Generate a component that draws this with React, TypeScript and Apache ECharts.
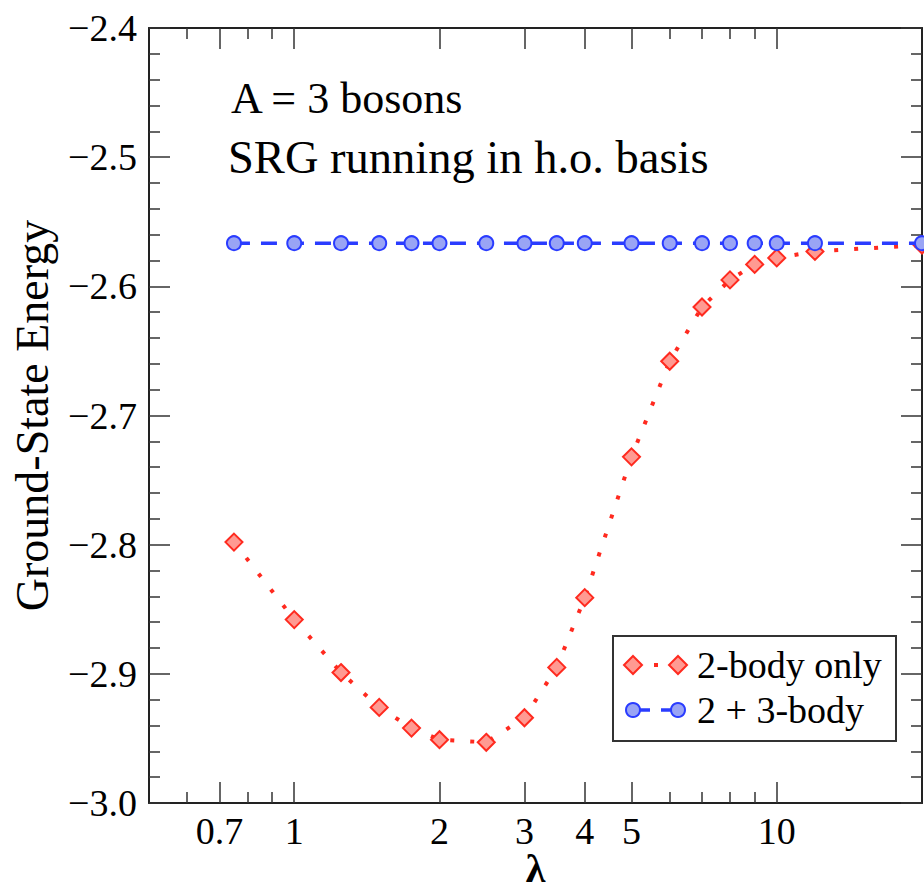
import React, { useEffect, useRef } from 'react';
import * as echarts from 'echarts';

// ---- data ----
const lambdaValues = [0.75, 1, 1.25, 1.5, 1.75, 2, 2.5, 3, 3.5, 4, 5, 6, 7, 8, 9, 10, 12, 20];
const twoBodyOnly = [-2.798, -2.858, -2.899, -2.926, -2.942, -2.951, -2.953, -2.934, -2.895, -2.841, -2.732, -2.658, -2.616, -2.595, -2.583, -2.578, -2.573, -2.568];
const twoPlusThreeBody = [-2.5666, -2.5666, -2.5666, -2.5666, -2.5666, -2.5666, -2.5666, -2.5666, -2.5666, -2.5666, -2.5666, -2.5666, -2.5666, -2.5666, -2.5666, -2.5666, -2.5666, -2.5666];
const xMajorTicks = [0.7, 1, 2, 3, 4, 5, 10];
const xMinorTicks = [0.6, 0.8, 0.9, 6, 7, 8, 9];
const seriesNames = ['2-body only', '2 + 3-body'];
const annotations = ['A = 3 bosons', 'SRG running in h.o. basis'];
const xAxisName = 'λ';
const yAxisName = 'Ground-State Energy';

const FONT = "'Liberation Serif', 'Times New Roman', Times, serif";
const RED = '#ff2a1f';
const RED_FILL = '#ff9a92';
const BLUE = '#2a3cff';
const BLUE_FILL = '#99a4f5';
const AXIS = '#222';

export default function App() {
  const ref = useRef<HTMLDivElement>(null);

  useEffect(() => {
    if (!ref.current) return;
    const chart = echarts.init(ref.current, null, { renderer: 'svg' });

    const tickLine = { color: '#333', width: 1.5 };
    const xBase: any = {
      type: 'log',
      logBase: 10,
      min: 0.5,
      max: 20,
      gridIndex: 0,
      splitLine: { show: false },
      minorTick: { show: false },
      minorSplitLine: { show: false },
    };
    const xFmt = (v: number) => String(+Number(v).toPrecision(6));
    const yFmt = (v: number) => (v < 0 ? '\u2212' : '') + Math.abs(v).toFixed(1);

    const yBase: any = {
      type: 'value',
      min: -3,
      max: -2.4,
      interval: 0.1,
      splitLine: { show: false },
      axisLine: { show: true, lineStyle: { color: AXIS, width: 2 } },
      axisTick: { show: true, inside: true, length: 21, lineStyle: tickLine },
      minorTick: { show: true, splitNumber: 5, length: 11, lineStyle: tickLine },
    };

    const diamond = (cx: number, cy: number, r: number) => [
      [cx, cy - r],
      [cx + r, cy],
      [cx, cy + r],
      [cx - r, cy],
    ];

    const option: any = {
      animation: false,
      backgroundColor: '#fff',
      grid: {
        left: 149,
        right: 2,
        top: 28,
        bottom: 86,
        containLabel: false,
        outerBoundsMode: 'none',
      },
      xAxis: [
        {
          ...xBase,
          position: 'bottom',
          axisLine: { show: true, lineStyle: { color: AXIS, width: 2 } },
          axisTick: { show: true, inside: true, length: 21, customValues: xMajorTicks, lineStyle: tickLine },
          axisLabel: {
            show: true,
            customValues: xMajorTicks,
            formatter: xFmt,
            fontSize: 38,
            fontFamily: FONT,
            color: '#000',
            margin: 9,
          },
          name: xAxisName,
          nameLocation: 'middle',
          nameGap: 49,
          nameMoveOverlap: false,
          nameTextStyle: { fontSize: 40, lineHeight: 32, fontFamily: FONT, color: '#000', fontWeight: 'bold' },
        },
        {
          ...xBase,
          position: 'bottom',
          axisLine: { show: false },
          axisTick: { show: true, inside: true, length: 11, customValues: xMinorTicks, lineStyle: tickLine },
          axisLabel: { show: false },
        },
        {
          ...xBase,
          position: 'top',
          axisLine: { show: true, lineStyle: { color: AXIS, width: 2 } },
          axisTick: { show: true, inside: true, length: 21, customValues: xMajorTicks, lineStyle: tickLine },
          axisLabel: { show: false },
        },
        {
          ...xBase,
          position: 'top',
          axisLine: { show: false },
          axisTick: { show: true, inside: true, length: 11, customValues: xMinorTicks, lineStyle: tickLine },
          axisLabel: { show: false },
        },
      ],
      yAxis: [
        {
          ...yBase,
          position: 'left',
          axisLabel: { show: true, formatter: yFmt, fontSize: 38, fontFamily: FONT, color: '#000', margin: 12 },
          name: yAxisName,
          nameLocation: 'middle',
          nameRotate: 90,
          nameGap: 94,
          nameMoveOverlap: false,
          nameTextStyle: { fontSize: 46, fontFamily: FONT, color: '#000' },
        },
        {
          ...yBase,
          position: 'right',
          axisLabel: { show: false },
        },
      ],
      series: [
        {
          type: 'line',
          name: seriesNames[0],
          xAxisIndex: 0,
          yAxisIndex: 0,
          data: lambdaValues.map((x, i) => [x, twoBodyOnly[i]]),
          symbol: 'diamond',
          symbolSize: 17,
          showSymbol: true,
          itemStyle: { color: RED_FILL, borderColor: RED, borderWidth: 2 },
          lineStyle: { color: RED, width: 4, type: [4, 16], cap: 'butt' },
          z: 2,
        },
        {
          type: 'line',
          name: seriesNames[1],
          xAxisIndex: 0,
          yAxisIndex: 0,
          data: lambdaValues.map((x, i) => [x, twoPlusThreeBody[i]]),
          symbol: 'circle',
          symbolSize: 14,
          showSymbol: true,
          itemStyle: { color: BLUE_FILL, borderColor: BLUE, borderWidth: 2 },
          lineStyle: { color: BLUE, width: 3.5, type: [16, 11], cap: 'butt' },
          z: 3,
        },
      ],
      graphic: [
        {
          type: 'text',
          x: 231,
          y: 98,
          z: 20,
          style: { text: annotations[0], fontSize: 44, fontFamily: FONT, fill: '#000', verticalAlign: 'middle', align: 'left' },
        },
        {
          type: 'text',
          x: 228,
          y: 157,
          z: 20,
          style: { text: annotations[1], fontSize: 46.5, fontFamily: FONT, fill: '#000', verticalAlign: 'middle', align: 'left' },
        },
        {
          type: 'rect',
          z: 20,
          shape: { x: 613, y: 636, width: 283, height: 105 },
          style: { fill: '#fff', stroke: '#333', lineWidth: 2 },
        },
        {
          type: 'rect',
          z: 21,
          shape: { x: 654, y: 663, width: 4, height: 4 },
          style: { fill: RED },
        },
        {
          type: 'polygon',
          z: 21,
          shape: { points: diamond(633, 665, 9) },
          style: { fill: RED_FILL, stroke: RED, lineWidth: 2 },
        },
        {
          type: 'polygon',
          z: 21,
          shape: { points: diamond(678, 665, 9) },
          style: { fill: RED_FILL, stroke: RED, lineWidth: 2 },
        },
        {
          type: 'line',
          z: 21,
          shape: { x1: 640, y1: 710, x2: 650, y2: 710 },
          style: { stroke: BLUE, lineWidth: 3.5 },
        },
        {
          type: 'line',
          z: 21,
          shape: { x1: 661, y1: 710, x2: 671, y2: 710 },
          style: { stroke: BLUE, lineWidth: 3.5 },
        },
        {
          type: 'circle',
          z: 22,
          shape: { cx: 633, cy: 710, r: 7 },
          style: { fill: BLUE_FILL, stroke: BLUE, lineWidth: 2 },
        },
        {
          type: 'circle',
          z: 22,
          shape: { cx: 678, cy: 710, r: 7 },
          style: { fill: BLUE_FILL, stroke: BLUE, lineWidth: 2 },
        },
        {
          type: 'text',
          x: 697,
          y: 665,
          z: 22,
          style: { text: seriesNames[0], fontSize: 38, fontFamily: FONT, fill: '#000', verticalAlign: 'middle', align: 'left' },
        },
        {
          type: 'text',
          x: 697,
          y: 710,
          z: 22,
          style: { text: seriesNames[1], fontSize: 38, fontFamily: FONT, fill: '#000', verticalAlign: 'middle', align: 'left' },
        },
      ],
    };

    chart.setOption(option);
    return () => {
      chart.dispose();
    };
  }, []);

  return (
    <div
      ref={ref}
      style={{ position: 'fixed', left: 0, top: 0, width: 924, height: 889 }}
    />
  );
}
